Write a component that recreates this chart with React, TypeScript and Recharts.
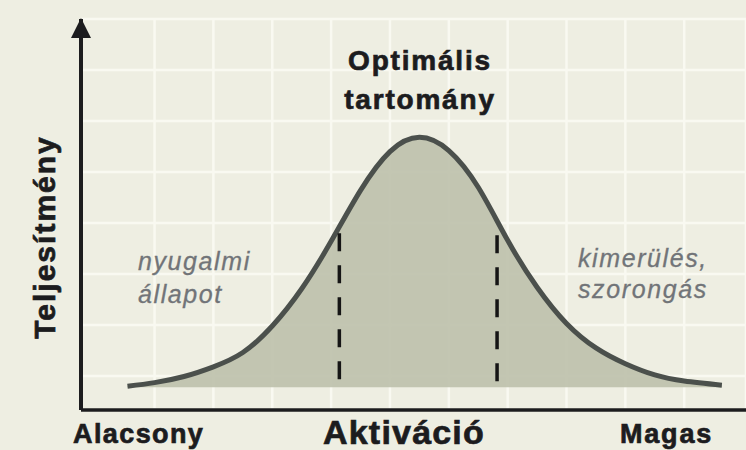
import {
  Area,
  CartesianGrid,
  ComposedChart,
  ReferenceDot,
  ReferenceLine,
  XAxis,
  YAxis,
} from "recharts";

// --- Data ---

// activation level (x, in grid cells)
const activation = [
  0.54, 1.0, 1.5, 2.0, 2.5, 3.0, 3.5, 4.0, 4.5, 5.0, 5.5, 6.0, 6.5, 7.0, 7.5,
  8.0, 8.5, 9.0, 9.5, 10.0, 10.64,
];
// performance (y, in grid cells)
const performance = [
  0.8, 0.87, 0.99, 1.18, 1.46, 1.98, 2.71, 3.64, 4.64, 5.4, 5.68, 5.42, 4.7,
  3.66, 2.74, 2.03, 1.55, 1.24, 1.02, 0.9, 0.82,
];

// bounds of the optimal range (dashed lines)
const optimalX = [4.14, 6.82];
const optimalTop = [3.8, 3.76];
const optimalBottom = 0.84;

// background grid
const gridX = [1, 2, 3, 4, 5, 6, 7, 8, 9, 10];
const gridY = [1, 2, 3, 4, 5, 6, 7];

const X_MIN = -0.25;
const X_MAX = 11.05;
const Y_MIN = 1 / 3;
const Y_MAX = 8;

const data = activation.map((x, i) => ({ x, y: performance[i] }));

const BG = "#eeeee2";
const GRID = "#f9f9f1";
const INK = "#1c1c1e";
const GRAY_TEXT = "#717478";
const FONT = "'Liberation Sans', Arial, sans-serif";

// ticks must be "on" for the grid to get its lines, so draw them as nothing
const NoTick = () => <g />;

const Arrow = ({ cx, cy }: { cx?: number; cy?: number }) => {
  if (cx == null || cy == null) return null;
  return (
    <path
      d={`M${cx},${cy - 1} L${cx - 10},${cy + 19} L${cx + 10},${cy + 19} Z`}
      fill={INK}
    />
  );
};

const boldText = {
  fontFamily: FONT,
  fontWeight: "bold",
  fill: INK,
  stroke: INK,
  strokeWidth: 0.7,
} as const;

const italicText = {
  fontFamily: FONT,
  fontStyle: "italic",
  fontSize: 25,
  letterSpacing: 1.6,
  fill: GRAY_TEXT,
  stroke: GRAY_TEXT,
  strokeWidth: 0.3,
} as const;

export default function App() {
  return (
    <div
      style={{
        position: "absolute",
        left: 0,
        top: 0,
        width: 746,
        height: 450,
        background: BG,
      }}
    >
      <ComposedChart
        width={746}
        height={450}
        data={data}
        margin={{ top: 19, right: 0, left: 81, bottom: 40 }}
      >
        <XAxis
          dataKey="x"
          type="number"
          domain={[X_MIN, X_MAX]}
          ticks={gridX}
          interval={0}
          tick={NoTick}
          tickLine={false}
          axisLine={false}
          height={0}
        />
        <YAxis
          type="number"
          domain={[Y_MIN, Y_MAX]}
          ticks={gridY}
          interval={0}
          tick={NoTick}
          tickLine={false}
          axisLine={false}
          width={0}
        />
        <CartesianGrid stroke={GRID} strokeWidth={2.5} />

        <Area
          type="natural"
          dataKey="y"
          baseValue={0.78}
          stroke="#4b504c"
          strokeWidth={5}
          fill="#bec2ad"
          fillOpacity={0.93}
          isAnimationActive={false}
        />
        {optimalX.map((x, i) => (
          <ReferenceLine
            key={x}
            segment={[
              { x, y: optimalTop[i] },
              { x, y: optimalBottom },
            ]}
            stroke="#151515"
            strokeWidth={3.5}
            strokeDasharray="18 14"
          />
        ))}

        {/* axes */}
        <ReferenceLine
          segment={[
            { x: X_MIN, y: Y_MIN },
            { x: X_MAX, y: Y_MIN },
          ]}
          stroke={INK}
          strokeWidth={3.5}
          ifOverflow="visible"
        />
        <ReferenceLine
          segment={[
            { x: X_MIN, y: Y_MIN },
            { x: X_MIN, y: Y_MAX },
          ]}
          stroke={INK}
          strokeWidth={4}
          ifOverflow="visible"
        />
        <ReferenceDot
          x={X_MIN}
          y={Y_MAX}
          r={0}
          ifOverflow="visible"
          shape={<Arrow />}
        />

        <text x={420} y={70} textAnchor="middle" fontSize={28} letterSpacing={1.8} {...boldText}>
          Optimális
        </text>
        <text x={420} y={109} textAnchor="middle" fontSize={28} letterSpacing={1.8} {...boldText}>
          tartomány
        </text>

        <text
          x={55}
          y={237}
          transform="rotate(-90, 55, 237)"
          textAnchor="middle"
          fontSize={30}
          letterSpacing={2}
          {...boldText}
        >
          Teljesítmény
        </text>

        <text x={138} y={270} {...italicText}>
          nyugalmi
        </text>
        <text x={138} y={303} {...italicText}>
          állapot
        </text>
        <text x={578} y={267} {...italicText}>
          kimerülés,
        </text>
        <text x={578} y={298} {...italicText}>
          szorongás
        </text>

        <text x={73} y={443} fontSize={27} letterSpacing={1.4} {...boldText}>
          Alacsony
        </text>
        <text x={323} y={444} fontSize={34} letterSpacing={1.2} {...boldText}>
          Aktiváció
        </text>
        <text x={620} y={443} fontSize={27} letterSpacing={1.8} {...boldText}>
          Magas
        </text>
      </ComposedChart>
    </div>
  );
}
